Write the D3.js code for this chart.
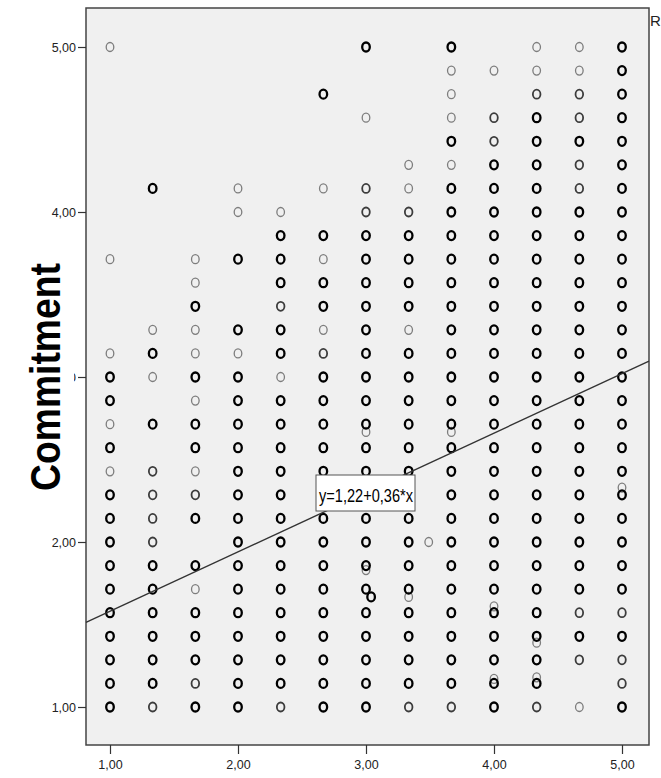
<!DOCTYPE html>
<html>
<head>
<meta charset="utf-8">
<script src="https://cdn.jsdelivr.net/npm/d3@7"></script>
<style>
body{margin:0;background:#fff}
svg{display:block;font-family:"Liberation Sans",Arial,sans-serif}
</style>
</head>
<body>
<svg id="chart" width="661" height="778"></svg>
<script>
// x positions of the point columns
const xCols=[1,4/3,5/3,2,7/3,8/3,3,10/3,11/3,4,13/3,14/3,5];
// one entry per row k (y = 1 + k/7), bottom to top
// 0 = no point, 1 = single point, 2 = a few overlapping, 3 = many overlapping
const col100=[3,3,3,3,3,3,3,3,3,3,1,3,1,3,3, 1,0,0,0,1, 0,0,0,0,0,0,0,0,1];
const col133=[2,3,3,3,3,3,3,2,2,2,2,0,3,0,1, 3,1,0,0,0, 0,0,3,0,0,0,0,0,0];
const col167=[3,2,3,3,3,1,3,0,3,2,1,3,3,1,3, 1,1,3,1,1, 0,0,0,0,0,0,0,0,0];
const col200=[3,3,3,3,3,3,3,3,3,3,3,3,3,3,3, 1,3,0,0,3, 0,1,1,0,0,0,0,0,0];
const col233=[2,3,3,3,3,3,3,3,3,3,3,3,3,3,1, 3,3,2,3,3, 3,1,0,0,0,0,0,0,0];
const col267=[3,3,3,3,3,3,3,3,3,3,3,3,3,3,3, 2,1,3,3,1, 3,0,1,0,0,0,3,0,0];
const col300=[3,3,3,3,3,3,3,3,3,3,3,3,3,3,3, 3,3,3,3,3, 3,2,2,0,0,1,0,0,3];
const col333=[2,3,3,3,3,3,3,3,3,3,3,3,3,3,3, 3,1,3,3,3, 3,2,1,1,0,0,0,0,0];
const col367=[2,3,3,3,3,3,3,3,3,3,3,3,3,3,3, 3,3,3,3,3, 3,3,3,1,3,1,1,1,3];
const col400=[3,3,3,3,3,3,3,3,3,3,3,3,3,3,3, 3,3,3,3,3, 3,3,3,3,2,2,0,1,0];
const col433=[2,3,3,3,3,3,3,3,3,3,3,3,3,3,3, 3,3,3,3,3, 3,3,3,3,3,3,2,1,1];
const col467=[1,0,2,3,2,3,3,3,3,3,3,3,3,3,3, 3,3,3,3,3, 3,3,2,2,3,2,2,1,1];
const col500=[3,2,2,3,2,3,3,3,3,3,3,3,3,3,3, 3,3,3,3,3, 3,3,3,3,3,3,3,3,3];
const columns=[col100,col133,col167,col200,col233,col267,col300,col333,col367,col400,col433,col467,col500];
// points that sit off the grid: [x, y, weight]
const extraPoints=[[3,2.667,1],[11/3,2.667,1],[3,1.83,1],[3.04,1.667,3],[10/3,1.667,1],
  [3.49,2.0,1],[4,1.61,1],[4,1.17,1],[13/3,1.39,1],[13/3,1.18,1],[5,2.33,1]];
const xTicks=[1,2,3,4,5];
const yTicks=[1,2,3,4,5];
const fitA=1.22, fitB=0.36;
const fitLabel="y=1,22+0,36*x";
const yTitle="Commitment";

const svg=d3.select("#chart");
const frame={left:86,top:8,right:649,bottom:745};
const x=d3.scaleLinear().domain([1,5]).range([110,622]);
const y=d3.scaleLinear().domain([1,5]).range([707,47]);
const fmt=d=>d3.format(".2f")(d).replace(".",",");

svg.append("rect")
  .attr("x",frame.left).attr("y",frame.top)
  .attr("width",frame.right-frame.left).attr("height",frame.bottom-frame.top)
  .attr("fill","#f0f0f0").attr("stroke","#444").attr("stroke-width",1.5);

const points=columns.flatMap((ws,i)=>ws.map((w,k)=>({x:xCols[i],y:1+k/7,w})))
  .concat(extraPoints.map(([px,py,w])=>({x:px,y:py,w})))
  .filter(d=>d.w>0);

const strokeCol={1:"#7d7d7d",2:"#3c3c3c",3:"#000"};
const strokeW={1:1.3,2:1.8,3:2.3};

svg.append("g").selectAll("ellipse")
  .data(points.sort((a,b)=>a.w-b.w))
  .join("ellipse")
  .attr("cx",d=>x(d.x))
  .attr("cy",d=>y(d.y))
  .attr("rx",3.8)
  .attr("ry",4.5)
  .attr("fill","none")
  .attr("stroke",d=>strokeCol[d.w])
  .attr("stroke-width",d=>strokeW[d.w]);

// fit line across the whole frame
const x0=x.invert(frame.left), x1=x.invert(frame.right);
svg.append("line")
  .attr("x1",x(x0)).attr("y1",y(fitA+fitB*x0))
  .attr("x2",x(x1)).attr("y2",y(fitA+fitB*x1))
  .attr("stroke","#333").attr("stroke-width",1.4);

const box=svg.append("g").attr("transform","translate(316,475)");
box.append("rect").attr("width",99).attr("height",36)
  .attr("fill","#fff").attr("stroke","#555").attr("stroke-width",1);
box.append("text").attr("x",3).attr("y",27)
  .attr("font-size",19).attr("textLength",94).attr("lengthAdjust","spacingAndGlyphs")
  .attr("fill","#000").text(fitLabel);

const yAxis=svg.append("g")
  .attr("transform",`translate(${frame.left},0)`)
  .call(d3.axisLeft(y).tickValues(yTicks).tickFormat(fmt).tickSize(8).tickPadding(2));
const xAxis=svg.append("g")
  .attr("transform",`translate(0,${frame.bottom})`)
  .call(d3.axisBottom(x).tickValues(xTicks).tickFormat(fmt).tickSize(9).tickPadding(6));
[yAxis,xAxis].forEach(a=>{
  a.select(".domain").remove();
  a.selectAll("line").attr("stroke","#333").attr("stroke-width",1.2);
  a.selectAll("text").attr("font-size",12.5).attr("fill","#222")
    .attr("font-family","'Liberation Sans',Arial,sans-serif");
});

// title sits on a white box that hides the middle tick label
svg.append("rect").attr("x",16).attr("y",256).attr("width",58).attr("height",242).attr("fill","#fff");
svg.append("text")
  .attr("transform","translate(60,377) rotate(-90)")
  .attr("text-anchor","middle")
  .attr("font-size",43).attr("font-weight","bold")
  .attr("textLength",228).attr("lengthAdjust","spacingAndGlyphs")
  .attr("fill","#000").text(yTitle);

svg.append("text").attr("x",650).attr("y",26)
  .attr("font-size",15).attr("fill","#222").text("R");
</script>
</body>
</html>
